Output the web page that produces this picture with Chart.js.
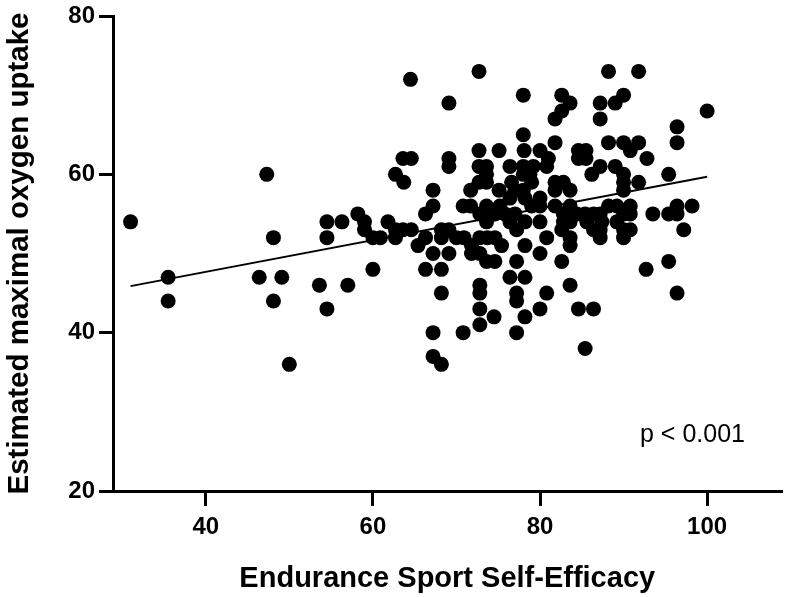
<!DOCTYPE html>
<html>
<head>
<meta charset="utf-8">
<script src="https://cdn.jsdelivr.net/npm/chart.js@4/dist/chart.umd.min.js"></script>
<style>
  html, body { margin: 0; padding: 0; background: #fff; }
  canvas { display: block; }
</style>
</head>
<body>
<canvas id="efficacyChart" width="789" height="597"></canvas>
<script>
// values
var efficacy = [
  31, 35.5, 35.5, 47.3, 48.1, 46.4, 49.1, 48.1, 50, 54.5, 56.3, 54.5, 53.6, 57, 54.5,
  64.5, 72.7, 69.1, 63.6, 64.6, 69.1, 69.1, 72.7, 75.1, 72.7, 73.6, 62.7, 63.7, 73.6, 73.6,
  72.7, 71.7, 67.2, 75.1, 67.2, 70.8, 71.7, 73.6, 75.2, 58.2, 66.3, 74.6, 59, 59, 60,
  60.9, 61.8, 62.7, 63.6, 64.6, 62.7, 65.4, 66.3, 67.2, 68.2, 69.1, 68.2, 69.1, 70, 70.9,
  71.8, 71.8, 72.8, 73.7, 74.6, 72.8, 73.6, 74.6, 60, 66.3, 68.2, 68.2, 72.8, 72.8, 72.8,
  74.5, 72.8, 67.2, 70.8, 67.2, 68.2,
  88.2, 78, 82.6, 83.6, 81.8, 82.6, 87.2, 87.2, 89, 90, 78, 81.8, 88.2, 90, 78.1,
  80, 81, 84.6, 85.5, 84.6, 85.5, 90.8, 76.4, 78, 78, 78.8, 79, 86.2, 87.2, 89,
  90, 90, 90, 77, 78, 81.8, 82.8, 83.6, 81.8, 76.4, 78.2, 79, 80, 81.8, 82.8,
  83.6, 84.4, 85.4, 86.4, 87.2, 88.2, 89.2, 90, 72.8, 73.6, 76.4, 77.2, 78.2, 80, 82.8,
  83.6, 82.6, 83.6, 83.6, 85.6, 86.4, 87.2, 87.2, 89.2, 90, 90, 75.4, 78.2, 80.8, 80,
  77.2, 82.6, 76.4, 78.2, 77.2, 77.2, 80.8, 83.6, 80, 78.2, 84.6, 86.4, 77.2, 85.4,
  91.8, 100, 96.4, 96.4, 91.8, 92.8, 91.8, 95.4, 90.8, 90.8, 90.8, 87.4, 93.5, 95.4, 96.4,
  96.4, 98.2, 97.2, 95.4, 92.7, 96.4,
  79.2, 76.6, 74.4, 75.8, 77, 80, 80.8
];
var oxygenUptake = [
  54, 47, 44, 60, 52, 47, 47, 44, 36, 54, 54, 52, 46, 46, 43,
  72, 73, 69, 62, 62, 62, 61, 63, 63, 61, 61, 60, 59, 60, 59,
  59, 58, 58, 58, 56, 56, 56, 56, 56, 55, 55, 55, 54, 53, 52,
  52, 54, 53, 53, 53, 52, 51, 52, 50, 53, 53, 52, 50, 52, 52,
  51, 50, 52, 52, 52, 50, 49, 49, 48, 48, 48, 45, 46, 45, 43,
  42, 41, 40, 40, 37, 36,
  73, 70, 70, 69, 67, 68, 69, 67, 69, 70, 65, 64, 64, 64, 63,
  63, 62, 63, 63, 62, 62, 63, 61, 61, 60, 60, 59, 60, 61, 61,
  60, 59, 58, 58, 58, 59, 59, 58, 58, 57, 57, 56, 56, 56, 55,
  56, 55, 55, 55, 55, 56, 56, 55, 55, 54, 54, 53, 54, 54, 54,
  54, 53, 52, 51, 54, 53, 53, 52, 54, 53, 52, 51, 51, 52, 50,
  49, 49, 47, 47, 45, 44, 45, 46, 43, 42, 43, 43, 40, 38,
  73, 68, 66, 64, 64, 62, 59, 60, 56, 55, 53, 54, 55, 55, 56,
  55, 56, 53, 49, 48, 45,
  61, 59, 55, 55, 55, 57, 61
];
var xTicks = [40, 60, 80, 100];
var yTicks = [20, 40, 60, 80];
var pText = 'p < 0.001';

var points = [];
for (var i = 0; i < efficacy.length; i++) {
  points.push({x: efficacy[i], y: oxygenUptake[i]});
}

// least squares line over the range of the data
function fitLine() {
  var n = efficacy.length, sx = 0, sy = 0, sxx = 0, sxy = 0;
  for (var i = 0; i < n; i++) {
    sx += efficacy[i]; sy += oxygenUptake[i];
    sxx += efficacy[i] * efficacy[i]; sxy += efficacy[i] * oxygenUptake[i];
  }
  var slope = (n * sxy - sx * sy) / (n * sxx - sx * sx);
  var icpt = (sy - slope * sx) / n;
  var lo = Math.min.apply(null, efficacy), hi = Math.max.apply(null, efficacy);
  return [{x: lo, y: icpt + slope * lo}, {x: hi, y: icpt + slope * hi}];
}

var font = 'Liberation Sans, Arial, Helvetica, sans-serif';

var pLabel = {
  id: 'pLabel',
  afterDraw: function(chart) {
    var c = chart.ctx;
    c.save();
    c.font = '25px ' + font;
    c.fillStyle = '#000';
    c.textAlign = 'left';
    c.textBaseline = 'middle';
    c.fillText(pText, 640, 435);
    c.restore();
  }
};

var ctx = document.getElementById('efficacyChart').getContext('2d');
var chart = new Chart(ctx, {
  type: 'scatter',
  data: {
    datasets: [{
      data: points,
      backgroundColor: '#000',
      borderWidth: 0,
      pointRadius: 7.5,
      pointHoverRadius: 7.5
    },
    {
      type: 'line',
      data: fitLine(),
      borderColor: '#000',
      borderWidth: 2,
      pointRadius: 0,
      fill: false
    }]
  },
  options: {
    responsive: false,
    animation: false,
    layout: { padding: { top: 15, right: 0, left: 0, bottom: 0 } },
    plugins: { legend: { display: false }, tooltip: { enabled: false } },
    scales: {
      x: {
        type: 'linear',
        min: 28.9,
        max: 108.9,
        afterBuildTicks: function(s) { s.ticks = xTicks.map(function(v) { return {value: v}; }); },
        afterFit: function(s) { s.height = 106; },
        ticks: { color: '#000', padding: 7, font: { family: font, size: 24, weight: 'bold' } },
        grid: { drawOnChartArea: false, drawTicks: true, tickLength: 15, color: '#000', lineWidth: 3 },
        border: { color: '#000', width: 3 },
        title: {
          display: true,
          text: 'Endurance Sport Self-Efficacy',
          color: '#000',
          padding: { top: 0, bottom: 4 },
          font: { family: font, size: 29, weight: 'bold', lineHeight: 1 }
        }
      },
      y: {
        min: 20,
        max: 80,
        afterBuildTicks: function(s) { s.ticks = yTicks.map(function(v) { return {value: v}; }); },
        afterFit: function(s) { s.width = 113; },
        ticks: { color: '#000', padding: 4, font: { family: font, size: 24, weight: 'bold', lineHeight: 1 } },
        grid: { drawOnChartArea: false, drawTicks: true, tickLength: 14, color: '#000', lineWidth: 3 },
        border: { color: '#000', width: 3 },
        title: {
          display: true,
          text: 'Estimated maximal oxygen uptake',
          color: '#000',
          padding: { top: 5, bottom: 0 },
          font: { family: font, size: 29.5, weight: 'bold', lineHeight: 1 }
        }
      }
    }
  },
  plugins: [pLabel]
});
</script>
</body>
</html>
